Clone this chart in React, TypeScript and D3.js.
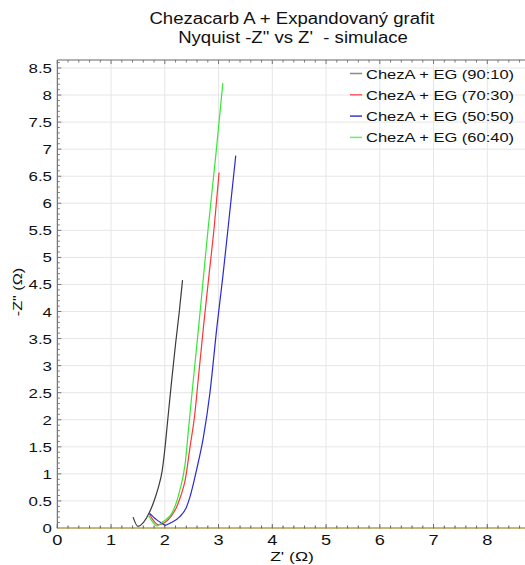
import * as d3 from "d3";

// series (Z' in ohm, -Z'' in ohm)
const seriesNames = ["ChezA + EG (90:10)", "ChezA + EG (70:30)", "ChezA + EG (50:50)", "ChezA + EG (60:40)"];
const seriesColors = ["#3a3a3a", "#ff3434", "#2a2ad4", "#34e834"];
const legendColors = ["#8a8a8a", "#ff5a6a", "#3a3ac0", "#6aee6a"];

const black_x = [1.41, 1.5, 1.71, 1.8, 1.88, 1.95, 2.0, 2.05, 2.12, 2.2, 2.27, 2.33];
const black_y = [0.2, 0.03, 0.28, 0.5, 0.75, 1.05, 1.45, 1.95, 2.65, 3.4, 4.0, 4.58];

const red_x = [1.71, 1.78, 1.88, 2.0, 2.12, 2.22, 2.3, 2.38, 2.47, 2.56, 2.62, 2.72, 2.82, 2.92, 3.01];
const red_y = [0.27, 0.15, 0.06, 0.1, 0.22, 0.39, 0.6, 0.89, 1.5, 2.12, 2.73, 3.72, 4.65, 5.57, 6.57];

const blue_x = [1.72, 1.85, 1.97, 2.0, 2.12, 2.28, 2.4, 2.47, 2.59, 2.72, 2.84, 2.97, 3.08, 3.18, 3.32];
const blue_y = [0.27, 0.15, 0.07, 0.05, 0.1, 0.21, 0.38, 0.58, 1.07, 1.69, 2.5, 3.72, 4.65, 5.57, 6.88];

const green_x = [1.69, 1.77, 1.85, 1.97, 2.13, 2.28, 2.38, 2.44, 2.5, 2.53, 2.63, 2.72, 2.81, 2.95, 3.08];
const green_y = [0.24, 0.12, 0.04, 0.12, 0.27, 0.7, 1.2, 1.81, 2.43, 2.73, 3.72, 4.65, 5.57, 6.9, 8.22];

const xTicks = [0, 1, 2, 3, 4, 5, 6, 7, 8];
const yTicks = [0, 0.5, 1, 1.5, 2, 2.5, 3, 3.5, 4, 4.5, 5, 5.5, 6, 6.5, 7, 7.5, 8, 8.5];

const W = 525;
const H = 565;
const font = "Liberation Sans, Arial, sans-serif";

// the reference font is drawn wide, so labels get a stretch along their reading direction
function Label(props: any) {
  const { x, y, rotate = 0, sx = 1.3, size = 13, anchor = "start", children } = props;
  return (
    <text
      transform={`translate(${x},${y}) rotate(${rotate}) scale(${sx},1)`}
      textAnchor={anchor}
      fontSize={size}
      fill="#111"
      style={{ whiteSpace: "pre" }}
    >
      {children}
    </text>
  );
}

export default function App() {
  const left = 57.3;
  const bottom = 528;
  const top = 60;

  const x = d3.scaleLinear().domain([0, 8.7]).range([left, left + 8.7 * 53.75]);
  const y = d3.scaleLinear().domain([0, 8.65]).range([bottom, bottom - 8.65 * 54.12]);

  const xs = [black_x, red_x, blue_x, green_x];
  const ys = [black_y, red_y, blue_y, green_y];

  const line = d3
    .line<[number, number]>()
    .x((d) => x(d[0]))
    .y((d) => y(d[1]))
    .curve(d3.curveMonotoneX);

  const xMinor = d3.range(0, 8.71, 0.2);
  const yMinor = d3.range(0, 8.66, 0.1);

  return (
    <svg width={W} height={H} style={{ position: "absolute", left: 0, top: 0 }} fontFamily={font}>
      <rect width={W} height={H} fill="#fff" />
      {/* titles */}
      <Label x={292} y={24} size={16} sx={1.16} anchor="middle">
        Chezacarb A + Expandovaný grafit
      </Label>
      <Label x={293} y={43} size={16} sx={1.16} anchor="middle">
        {"Nyquist -Z\" vs Z'  - simulace"}
      </Label>

      {/* grid */}
      {xTicks.slice(1).map((t) => (
        <line key={"gx" + t} x1={x(t)} x2={x(t)} y1={top} y2={bottom} stroke="#e6e6e6" />
      ))}
      {yTicks.slice(1).map((t) => (
        <line key={"gy" + t} x1={left} x2={W} y1={y(t)} y2={y(t)} stroke="#e6e6e6" />
      ))}

      {/* frame */}
      <line x1={left} x2={W} y1={top} y2={top} stroke="#666" />
      <line x1={left} x2={left} y1={top} y2={bottom} stroke="#555" />
      {xMinor.map((t, i) => (
        <g key={"xm" + i}>
          <line x1={x(t)} x2={x(t)} y1={top} y2={top + (i % 5 === 0 ? 4 : 2.5)} stroke="#777" />
          <line x1={x(t)} x2={x(t)} y1={bottom} y2={bottom - (i % 5 === 0 ? 4 : 2.5)} stroke="#666" />
        </g>
      ))}
      {yMinor.map((t, i) => (
        <line key={"ym" + i} x1={left} x2={left + (i % 5 === 0 ? 4 : 2.5)} y1={y(t)} y2={y(t)} stroke="#777" />
      ))}
      {/* zero baseline */}
      <line x1={left} x2={W} y1={bottom} y2={bottom} stroke="#c9b57a" strokeWidth={2} />
      {xMinor.map((t, i) => (
        <line key={"xd" + i} x1={x(t)} x2={x(t)} y1={bottom - 1.5} y2={bottom + 0.5} stroke="#6a6a55" />
      ))}

      {/* tick labels */}
      {xTicks.map((t) => (
        <Label key={"xl" + t} x={x(t)} y={545} size={14} sx={1.3} anchor="middle">
          {t}
        </Label>
      ))}
      {yTicks.map((t) => (
        <Label key={"yl" + t} x={52} y={y(t) + 5} size={13} sx={1.3} anchor="end">
          {t}
        </Label>
      ))}

      {/* axis titles */}
      <Label x={292} y={561} size={13.5} sx={1.3} anchor="middle">
        Z' (Ω)
      </Label>
      <Label x={22} y={292} rotate={-90} size={13} sx={1.25} anchor="middle">
        -Z" (Ω)
      </Label>

      {/* series */}
      {xs.map((sx, k) => (
        <path
          key={"s" + k}
          d={line(sx.map((v, i) => [v, ys[k][i]] as [number, number])) || ""}
          fill="none"
          stroke={seriesColors[k]}
          strokeWidth={1.2}
        />
      ))}

      {/* legend */}
      {seriesNames.map((n, k) => (
        <g key={"lg" + k}>
          <line x1={350} x2={362} y1={73.5 + k * 21.3} y2={73.5 + k * 21.3} stroke={legendColors[k]} strokeWidth={1.5} />
          <Label x={366} y={78.5 + k * 21.3} size={13} sx={1.27}>
            {n}
          </Label>
        </g>
      ))}
    </svg>
  );
}
